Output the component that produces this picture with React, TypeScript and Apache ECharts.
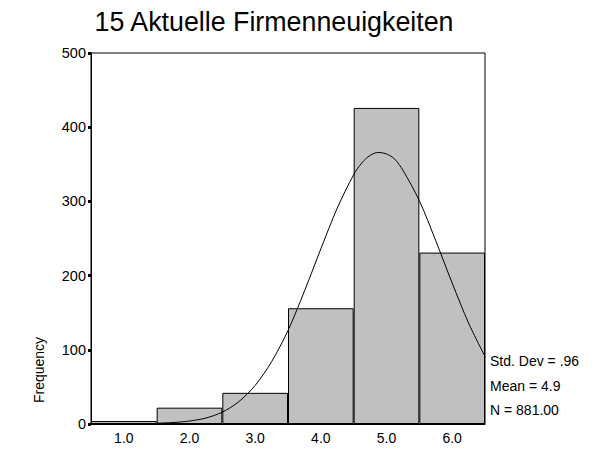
import React, { useEffect, useRef } from "react";
import * as echarts from "echarts";

const categories = ["1.0", "2.0", "3.0", "4.0", "5.0", "6.0"];
const frequencies = [4, 22, 42, 156, 426, 231];
const curveX = [1.5, 1.75, 2.0, 2.25, 2.5, 2.75, 3.0, 3.25, 3.5, 3.75, 4.0, 4.25, 4.5, 4.625, 4.75, 4.875, 5.0, 5.125, 5.25, 5.5, 5.75, 6.0, 6.25, 6.5];
const curveY = [1, 2, 4, 8, 16, 30, 52, 84, 126, 179, 236, 291, 336, 352, 362, 366, 364, 357, 342, 301, 247, 190, 136, 91];
const statLines = ["Std. Dev = .96", "Mean = 4.9", "N = 881.00"];

const FONT = "Liberation Sans, Arial, sans-serif";

export default function App() {
  const ref = useRef<HTMLDivElement>(null);
  useEffect(() => {
    document.body.style.margin = "0";
    const chart = echarts.init(ref.current!, null, { renderer: "svg" });
    chart.setOption({
      animation: false,
      backgroundColor: "#ffffff",
      title: {
        text: "15 Aktuelle Firmenneuigkeiten",
        left: 269,
        top: 3,
        textAlign: "center",
        textStyle: { fontFamily: FONT, fontSize: 26.8, fontWeight: "normal", color: "#000" },
      },
      grid: {
        left: 91,
        right: 112,
        top: 53,
        bottom: 27,
        show: true,
        borderColor: "#000",
        borderWidth: 1,
        backgroundColor: "transparent",
      },
      xAxis: [
        {
          type: "category",
          data: categories,
          axisLine: { lineStyle: { color: "#000", width: 1 } },
          axisTick: { alignWithLabel: true, length: 3, lineStyle: { color: "#000", width: 3 } },
          axisLabel: { color: "#000", fontFamily: FONT, fontSize: 14, margin: 7 },
          splitLine: { show: false },
        },
        {
          type: "value",
          min: 0.5,
          max: 6.5,
          show: false,
        },
      ],
      yAxis: {
        type: "value",
        min: 0,
        max: 500,
        interval: 100,
        axisLine: { show: true, lineStyle: { color: "#000", width: 1 } },
        axisTick: { show: true, length: 3, lineStyle: { color: "#000", width: 3 } },
        axisLabel: { color: "#000", fontFamily: FONT, fontSize: 14.5, margin: 5 },
        splitLine: { show: false },
      },
      series: [
        {
          type: "bar",
          data: frequencies,
          barCategoryGap: "0%",
          itemStyle: { color: "#c0c0c0", borderColor: "#000", borderWidth: 1 },
        },
        {
          type: "line",
          xAxisIndex: 1,
          data: curveX.map((x, i) => [x, curveY[i]]),
          smooth: 0.3,
          showSymbol: false,
          symbol: "none",
          lineStyle: { color: "#000", width: 1 },
          z: 5,
        },
      ],
      graphic: [
        {
          type: "text",
          x: 39,
          y: 370,
          rotation: Math.PI / 2,
          style: {
            text: "Frequency",
            fontFamily: FONT,
            fontSize: 14,
            fill: "#000",
            align: "center",
            verticalAlign: "middle",
          },
        },
        ...statLines.map((t, i) => ({
          type: "text",
          x: 490,
          y: 361 + i * 24.5,
          style: {
            text: t,
            fontFamily: FONT,
            fontSize: 14,
            fill: "#000",
            align: "left",
            verticalAlign: "middle",
          },
        })),
      ],
    });
    return () => chart.dispose();
  }, []);
  return <div ref={ref} style={{ width: 597, height: 451 }} />;
}
